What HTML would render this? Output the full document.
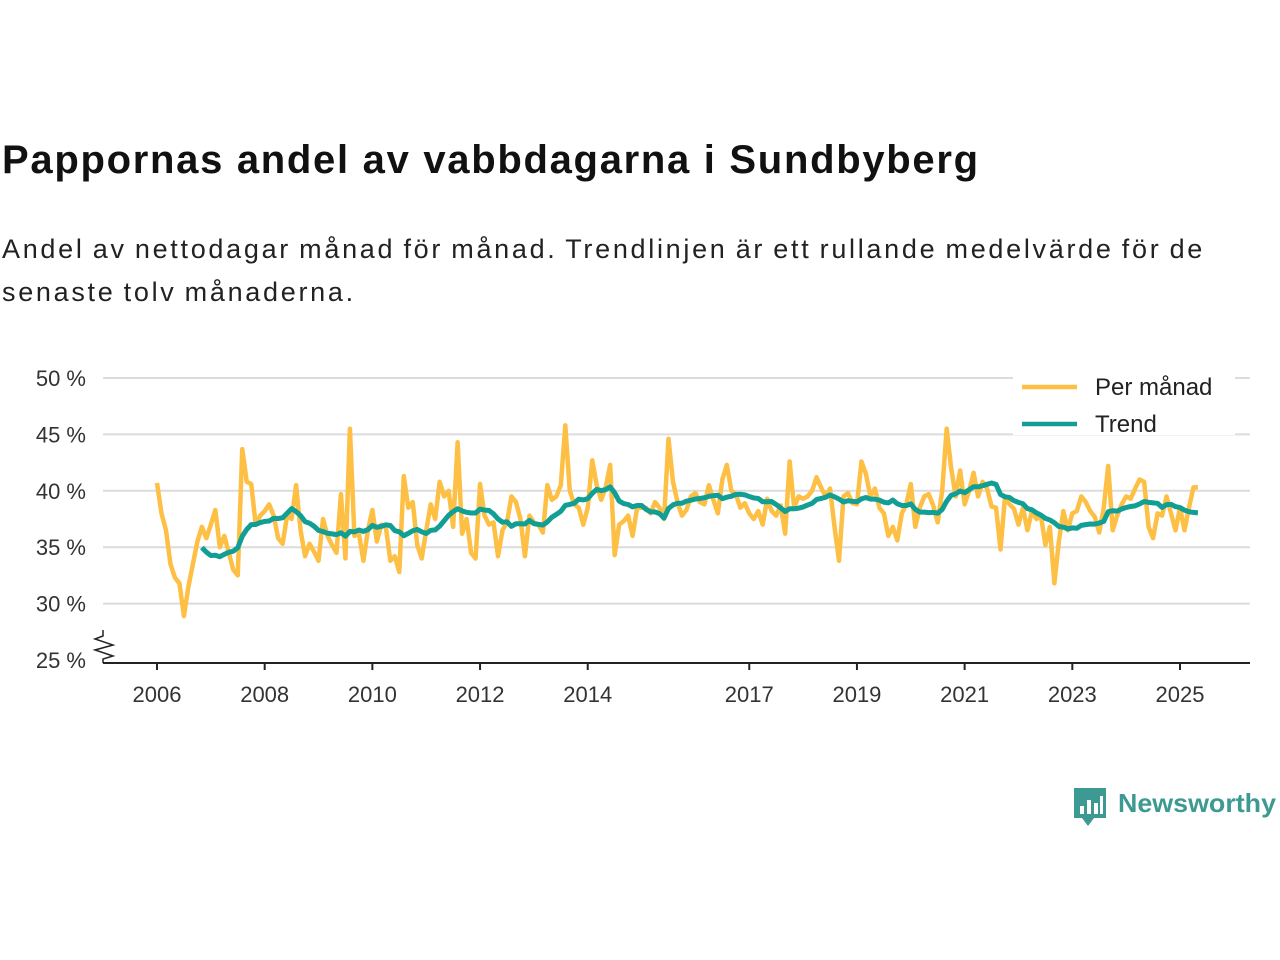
<!DOCTYPE html>
<html><head><meta charset="utf-8"><style>
body{margin:0;width:1280px;height:960px;background:#fff;font-family:"Liberation Sans","DejaVu Sans",sans-serif;overflow:hidden;position:relative}
#title{position:absolute;left:2px;top:138px;font-size:40px;letter-spacing:1.7px;font-weight:bold;color:#111;margin:0;white-space:nowrap}
#sub{position:absolute;left:2px;top:228px;font-size:27px;letter-spacing:2.7px;word-spacing:-2px;line-height:43px;color:#222;width:1240px}
svg{position:absolute;left:0;top:0}
</style></head><body>
<h1 id="title">Pappornas andel av vabbdagarna i Sundbyberg</h1>
<div id="sub">Andel av nettodagar månad för månad. Trendlinjen är ett rullande medelvärde för de<br>senaste tolv månaderna.</div>
<svg id="chart" width="1280" height="960"></svg>
<script>
const monthly=[40.7,38,36.5,33.5,32.3,31.8,28.9,31.5,33.5,35.5,36.8,35.8,
37,38.3,35,36,34.5,33,32.5,43.7,40.8,40.6,37,37.8,
38.2,38.8,37.8,35.8,35.3,37.8,37.5,40.5,36.5,34.2,35.3,34.6,
33.8,37.5,36,35.2,34.5,39.7,34,45.5,36,36.2,33.8,36.5,
38.3,35.5,37,36.8,33.8,34.2,32.8,41.3,38.5,39,35.2,34,
36.5,38.8,37.5,40.8,39.5,40,36.8,44.3,36.2,37.5,34.5,34,
40.6,37.8,37,37.2,34.2,36.5,37.2,39.5,39,37.5,34.2,37.8,
37.2,37,36.3,40.5,39.2,39.5,40.5,45.8,40,38.8,38.5,37,
38.5,42.7,40.5,39.2,40.3,42.3,34.3,37,37.3,37.8,36,38.5,
38.5,38.5,38,39,38.5,37.5,44.6,40.8,39,37.8,38.3,39.5,
39.8,39,38.8,40.5,39.2,38,41,42.3,40,39.7,38.5,38.9,
38,37.5,38.2,37,39.3,38.2,37.8,38.7,36.2,42.6,38.5,39.5,
39.3,39.5,40,41.2,40.3,39.5,40.2,36.8,33.8,39.5,39.8,38.9,
38.8,42.6,41.5,39.5,40.2,38.5,38,36,36.8,35.6,38,38.8,
40.6,36.8,38.5,39.5,39.7,38.7,37.2,40,45.5,42,39.5,41.8,
38.8,40,41.6,39.5,40.8,40.2,38.6,38.5,34.8,39.5,38.8,38.4,
37,38.5,36.5,38.2,37.5,37.8,35.2,36.8,31.8,35.5,38.2,36.5,
38,38.2,39.5,39,38.2,37.7,36.3,38.5,42.2,36.5,37.8,38.8,
39.5,39.3,40.2,41,40.8,36.8,35.8,38,37.8,39.5,38,36.5,
38.5,36.5,38.5,40.3,40.3];
const startYear=2006;
const yTicks=[25,30,35,40,45,50];
const yTickLabels=["25 %","30 %","35 %","40 %","45 %","50 %"];
const xTicks=[2006,2008,2010,2012,2014,2017,2019,2021,2023,2025];
const NS="http://www.w3.org/2000/svg";
const svg=document.getElementById('chart');
const X=t=>157+(t-startYear)*(1180-157)/19;
const Y=v=>660-(v-25)*(660-378)/25;
function mk(tag,attrs,parent){const e=document.createElementNS(NS,tag);for(const k in attrs)e.setAttribute(k,attrs[k]);(parent||svg).appendChild(e);return e;}
yTicks.forEach((v,i)=>{
 if(i>0){const g=mk('line',{x1:103,x2:1250,y1:Y(v),y2:Y(v),stroke:'#dcdcdc','stroke-width':2});
 
 }
 const t=mk('text',{x:86,y:Y(v)+8,'text-anchor':'end','font-size':22,fill:'#333'});
 t.textContent=yTickLabels[i];
 
 
});
const ax=mk('line',{x1:103,x2:1250,y1:663,y2:663,stroke:'#222','stroke-width':2});


const brk=mk('path',{d:'M103 630 L103 636 L95 639 L113 645 L95 650 L113 656 L103 659 L103 663',fill:'none',stroke:'#222','stroke-width':1.5});


xTicks.forEach(yr=>{
 const x=X(yr);
 const tk=mk('line',{x1:x,x2:x,y1:663,y2:670,stroke:'#222','stroke-width':2});
 
 
 const t=mk('text',{x:x,y:702,'text-anchor':'middle','font-size':22,fill:'#333'});
 t.textContent=yr;
 
 
});
const mp=monthly.map((v,i)=>[X(startYear+i/12),Y(v)]);
const ml=mk('polyline',{points:mp.map(p=>p.join(',')).join(' '),fill:'none',stroke:'#fdbf44','stroke-width':4.5,'stroke-linejoin':'round'});


const tp=[];
for(let i=10;i<monthly.length;i++){let s=0;for(let j=i-11;j<=i;j++)s+=monthly[Math.max(j,0)];tp.push([X(startYear+i/12),Y(s/12)]);}
const tl=mk('polyline',{points:tp.map(p=>p.join(',')).join(' '),fill:'none',stroke:'#109e95','stroke-width':5,'stroke-linejoin':'round'});


const lg=mk('rect',{x:1013,y:363,width:222,height:72,fill:'#fff'});


[["Per månad","#fdbf44",387],["Trend","#109e95",424]].forEach(([n,c,y])=>{
 const l=mk('line',{x1:1022,x2:1077,y1:y,y2:y,stroke:c,'stroke-width':4.5});
 
 
 const t=mk('text',{x:1095,y:y+8,'font-size':24,fill:'#222'});
 t.textContent=n;
 
 
});
const logo=mk('g',{});


mk('path',{d:'M1074 788 h32 v30 h-12 l-6 8 l-6 -8 h-8 z',fill:'#3c9a92'},logo);
[[1080,806,4,8],[1087,800,4,14],[1094,803,4,11],[1100,796,3,18]].forEach(r=>mk('rect',{x:r[0],y:r[1],width:r[2],height:r[3],fill:'#fff'},logo));
const lt=mk('text',{x:1118,y:812,'font-size':26,'font-weight':'bold',fill:'#3c9a92','textLength':158,'lengthAdjust':'spacingAndGlyphs'},logo);
lt.textContent='Newsworthy';
</script>
</body></html>
